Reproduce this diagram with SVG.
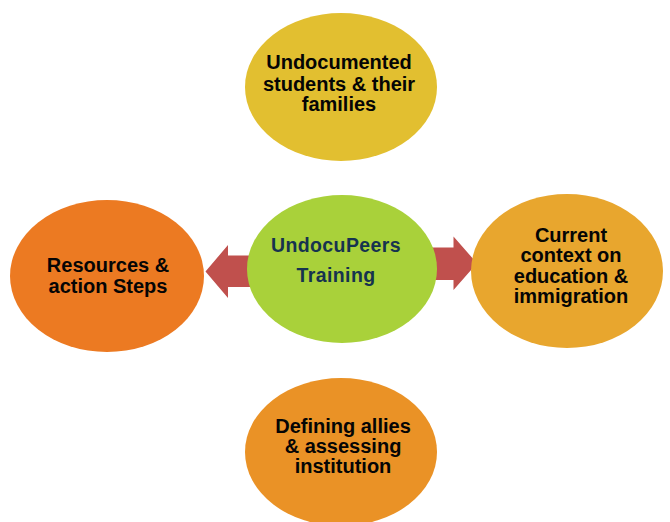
<svg xmlns="http://www.w3.org/2000/svg" width="670" height="522" viewBox="0 0 670 522">
<style>
.lbl{font-family:"Liberation Sans",Arial,sans-serif;font-weight:bold;font-size:20px;fill:#050505;text-anchor:middle}
.ctr{fill:#16334f;font-size:19.5px;letter-spacing:0.4px}
.arrow{fill:#C0504D}
</style>
<rect width="670" height="522" fill="#fff"/>
<g id="connectors">
<polygon class="arrow" points="255,255.5 228,255.5 228,245 205.5,271.5 228,298 228,287 255,287"/>
<polygon class="arrow" points="428,247.5 453.5,247.5 453.5,236.5 477,263.3 453.5,290 453.5,280 428,280"/>
</g>
<g id="top">
<ellipse cx="341" cy="87" rx="96" ry="74" fill="#E2BF30"/>
<text class="lbl" x="339" y="69">Undocumented</text>
<text class="lbl" x="339" y="90.5">students &amp; their</text>
<text class="lbl" x="339" y="111">families</text>
</g>
<g id="left">
<ellipse cx="107" cy="276" rx="97" ry="76" fill="#EC7A22"/>
<text class="lbl" x="108" y="272">Resources &amp;</text>
<text class="lbl" x="108" y="293">action Steps</text>
</g>
<g id="center">
<ellipse cx="342" cy="269" rx="95" ry="74" fill="#A9D13A"/>
<text class="lbl ctr" x="336" y="252">UndocuPeers</text>
<text class="lbl ctr" x="336" y="282">Training</text>
</g>
<g id="right">
<ellipse cx="567" cy="271" rx="96" ry="77" fill="#E8A62E"/>
<text class="lbl" x="571" y="242">Current</text>
<text class="lbl" x="571" y="262">context on</text>
<text class="lbl" x="571" y="283">education &amp;</text>
<text class="lbl" x="571" y="303">immigration</text>
</g>
<g id="bottom">
<ellipse cx="341" cy="452" rx="96" ry="74" fill="#EA9226"/>
<text class="lbl" x="343" y="433">Defining allies</text>
<text class="lbl" x="343" y="453">&amp; assessing</text>
<text class="lbl" x="343" y="473">institution</text>
</g>
</svg>
